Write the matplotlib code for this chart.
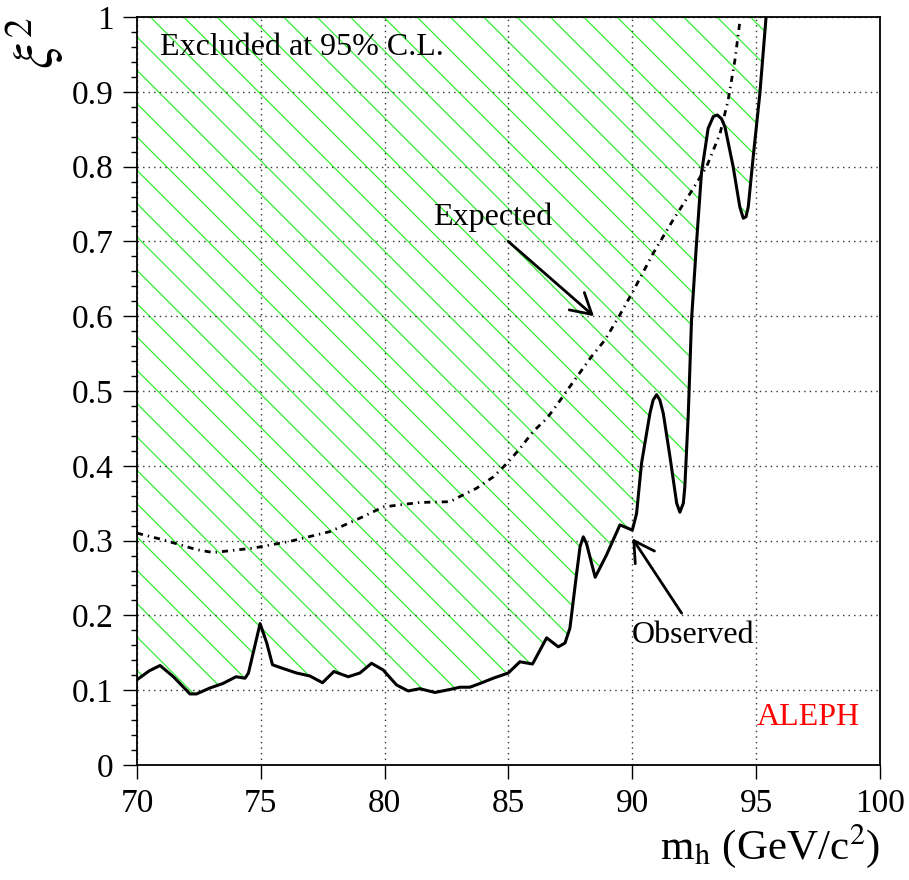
import numpy as np
import matplotlib
matplotlib.use("Agg")
import matplotlib.pyplot as plt
from matplotlib.ticker import MultipleLocator

plt.rcParams['font.family'] = ['Liberation Serif', 'DejaVu Serif']
plt.rcParams['mathtext.fontset'] = 'stix'
plt.rcParams['hatch.linewidth'] = 0.9

# observed 95% C.L. limit on xi^2 vs higgs mass
obs_m = [70.0, 70.5, 70.93, 71.47, 72.14, 72.4, 72.95, 73.47, 74.0, 74.36,
         74.5, 74.97, 75.24, 75.47, 75.9, 76.44, 76.98, 77.49, 77.95, 78.53,
         79.0, 79.47, 79.94, 80.48, 80.95, 81.42, 82.03, 82.64, 83.04, 83.44,
         83.85, 84.38, 84.99, 85.46, 85.97, 86.54, 87.01, 87.28, 87.48, 87.75,
         87.89, 88.02, 88.15, 88.5, 88.96, 89.5, 90.0, 90.17, 90.37, 90.71,
         90.84, 90.98, 91.11, 91.25, 91.52, 91.79, 91.92, 92.06, 92.12, 92.26,
         92.39, 92.59, 92.79, 93.06, 93.27, 93.43, 93.6, 93.74, 94.07, 94.27,
         94.34, 94.48, 94.59, 94.68, 94.88, 95.15, 95.4]
obs_xi2 = [0.114, 0.126, 0.133, 0.118, 0.095, 0.095, 0.103, 0.109, 0.118, 0.116,
           0.123, 0.189, 0.163, 0.134, 0.129, 0.123, 0.119, 0.110, 0.125, 0.118,
           0.123, 0.136, 0.127, 0.107, 0.099, 0.102, 0.097, 0.101, 0.104, 0.104,
           0.109, 0.116, 0.123, 0.138, 0.135, 0.170, 0.158, 0.163, 0.183, 0.256,
           0.292, 0.305, 0.296, 0.251, 0.281, 0.321, 0.314, 0.336, 0.403, 0.470,
           0.488, 0.495, 0.488, 0.470, 0.412, 0.350, 0.338, 0.350, 0.372, 0.470,
           0.595, 0.697, 0.791, 0.851, 0.867, 0.869, 0.864, 0.853, 0.800, 0.760,
           0.746, 0.731, 0.733, 0.746, 0.813, 0.898, 1.0]

# expected limit
exp_m = [70.0, 71.06, 72.4, 73.08, 74.7, 76.18, 77.79, 79.13, 79.94, 81.42,
         82.64, 83.04, 83.71, 84.38, 84.99, 85.46, 86.0, 86.54, 87.01, 87.48,
         88.35, 88.89, 89.5, 90.04, 90.84, 91.65, 92.33, 93.0, 93.54, 93.87,
         94.14, 94.35]
exp_xi2 = [0.310, 0.301, 0.288, 0.284, 0.290, 0.299, 0.312, 0.332, 0.345, 0.351,
           0.352, 0.359, 0.370, 0.385, 0.405, 0.423, 0.446, 0.463, 0.484, 0.506,
           0.546, 0.568, 0.602, 0.634, 0.684, 0.729, 0.764, 0.800, 0.844, 0.889,
           0.942, 0.996]

fig = plt.figure(figsize=(9.09, 8.8), dpi=100)
ax = fig.add_axes([137/909, 1 - 765/880, (880-137)/909, (765-17)/880])

# excluded region, hatched
ax.fill_between(obs_m, obs_xi2, 1.0, facecolor='none', edgecolor='#33ee33',
                hatch='\\', linewidth=0)

ax.plot(obs_m, obs_xi2, color='black', lw=2.2, solid_joinstyle='round')
ax.plot(exp_m, exp_xi2, color='black', lw=2.0,
        linestyle=(0, (2.2, 1.8, 0.5, 1.8)))

ax.set_xlim(70, 100)
ax.set_ylim(0, 1)
ax.xaxis.set_major_locator(MultipleLocator(5))
ax.yaxis.set_minor_locator(MultipleLocator(0.02))
ax.set_yticks(np.arange(0, 1.01, 0.1))
ax.set_yticklabels(['0'] + ['%.1f' % v for v in np.arange(0.1, 0.95, 0.1)] + ['1'])
ax.tick_params(axis='both', which='major', direction='out', length=10, width=1,
               labelsize=24, pad=7)
ax.tick_params(axis='y', which='minor', direction='out', length=4, width=1)
ax.grid(True, which='major', color='#333333', linestyle=(0, (1, 3)), linewidth=1.0)

for s in ax.spines.values():
    s.set_linewidth(1.3)

ax.set_xlabel(r'm$_{\rm h}$ (GeV/c$^2$)', fontsize=31, loc='right', labelpad=2)
ax.set_ylabel(r'$\xi^2$', fontsize=40, loc='top', labelpad=4)

ax.text(70.93, 0.949, 'Excluded at 95% C.L.', fontsize=23)
ax.text(81.95, 0.722, 'Expected', fontsize=23)
ax.text(89.98, 0.163, 'Observed', fontsize=23)
ax.text(95.03, 0.053, 'ALEPH', fontsize=23, color='red')

arrow = dict(arrowstyle='->,head_length=0.4,head_width=0.23', lw=2,
             color='black', mutation_scale=36, shrinkA=0, shrinkB=0)
ax.annotate('', xy=(88.45, 0.600), xytext=(84.99, 0.700), arrowprops=arrow)
ax.annotate('', xy=(90.0, 0.303), xytext=(91.99, 0.203), arrowprops=arrow)

fig.savefig('out.png', dpi=100)
